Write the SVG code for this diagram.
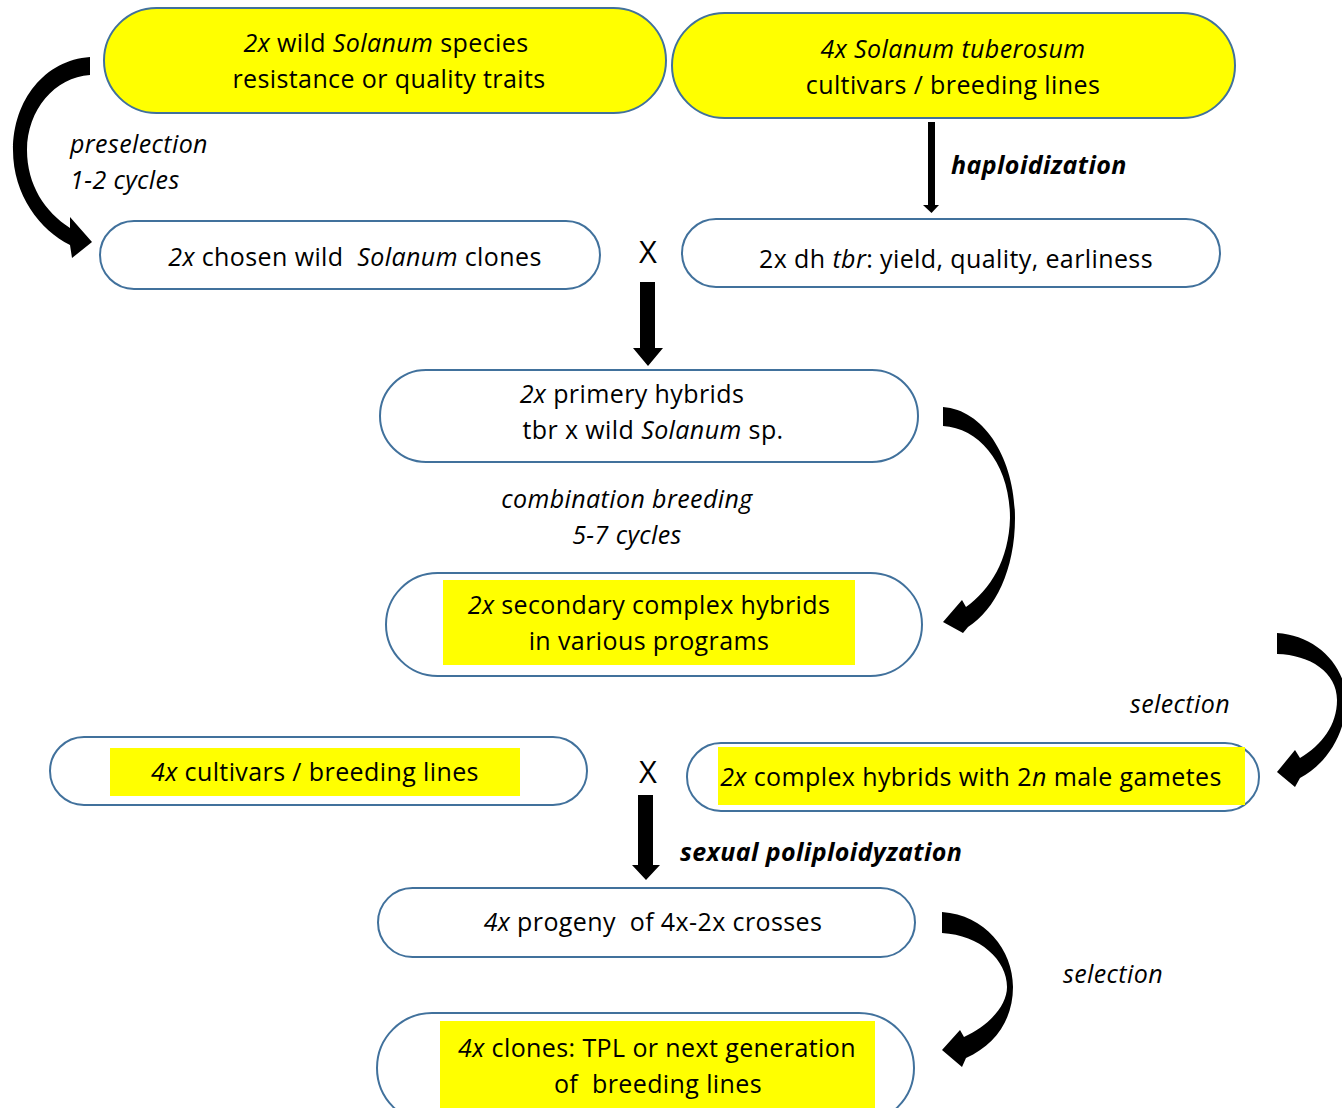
<svg xmlns="http://www.w3.org/2000/svg" width="1342" height="1108" viewBox="0 0 1342 1108">
<style>
.box{stroke:#41719C;stroke-width:2}
.y{fill:#FFFF00}
.w{fill:#FFFFFF}
.hl{fill:#FFFF00}
text{font-family:"Open Sans","Noto Sans",sans-serif;font-size:25px;letter-spacing:0.4px;fill:#000;white-space:pre}
.c{text-anchor:middle}
.i{font-style:italic}
.b{font-weight:bold;font-style:italic}
.x{font-size:31px;letter-spacing:0}
.ar{fill:#000}
</style>
<rect width="1342" height="1108" fill="#fff"/>
<g id="n1"><rect class="box y" x="104" y="8" width="562" height="105" rx="52.5"/>
<text class="c" x="386" y="52"><tspan class="i">2x</tspan> wild <tspan class="i">Solanum</tspan> species</text>
<text class="c" x="389" y="88">resistance or quality traits</text></g>
<g id="n2"><rect class="box y" x="672" y="13" width="563" height="105" rx="52.5"/>
<text class="c i" x="953" y="58">4x Solanum tuberosum</text>
<text class="c" x="953" y="94">cultivars / breeding lines</text></g>
<g id="n3"><rect class="box w" x="100" y="221" width="500" height="68" rx="34"/>
<text class="c" x="355" y="266" xml:space="preserve"><tspan class="i">2x</tspan> chosen wild  <tspan class="i">Solanum</tspan> clones</text></g>
<g id="n4"><rect class="box w" x="682" y="219" width="538" height="68" rx="34"/>
<text class="c" x="956" y="268">2x dh <tspan class="i">tbr</tspan>: yield, quality, earliness</text></g>
<g id="n5"><rect class="box w" x="380" y="370" width="538" height="92" rx="46"/>
<text class="c" x="632" y="403"><tspan class="i">2x</tspan> primery hybrids</text>
<text class="c" x="653" y="439">tbr x wild <tspan class="i">Solanum</tspan> sp.</text></g>
<g id="n6"><rect class="box w" x="386" y="573" width="536" height="103" rx="51.5"/>
<rect class="hl" x="443" y="580" width="412" height="85"/>
<text class="c" x="649" y="614"><tspan class="i">2x</tspan> secondary complex hybrids</text>
<text class="c" x="649" y="650">in various programs</text></g>
<g id="n7"><rect class="box w" x="50" y="737" width="537" height="68" rx="34"/>
<rect class="hl" x="110" y="748" width="410" height="48"/>
<text class="c" x="315" y="781"><tspan class="i">4x</tspan> cultivars / breeding lines</text></g>
<g id="n8"><rect class="box w" x="687" y="743" width="572" height="68" rx="34"/>
<rect class="hl" x="718" y="747" width="527" height="58"/>
<text class="c" x="971" y="786"><tspan class="i">2x</tspan> complex hybrids with 2<tspan class="i">n</tspan> male gametes</text></g>
<g id="n9"><rect class="box w" x="378" y="888" width="537" height="69" rx="34.5"/>
<text class="c" x="653" y="931" xml:space="preserve"><tspan class="i">4x</tspan> progeny  of 4x-2x crosses</text></g>
<g id="n10"><rect class="box w" x="377" y="1013" width="537" height="110" rx="55"/>
<rect class="hl" x="440" y="1021" width="435" height="87"/>
<text class="c" x="657" y="1057"><tspan class="i">4x</tspan> clones: TPL or next generation</text>
<text class="c" x="658" y="1093" xml:space="preserve">of  breeding lines</text></g>
<g id="labels">
<text class="i" x="70" y="153">preselection</text>
<text class="i" x="70" y="189">1-2 cycles</text>
<text class="b" x="951" y="174">haploidization</text>
<text class="c x" x="648" y="263">X</text>
<text class="c i" x="627" y="508">combination breeding</text>
<text class="c i" x="627" y="544">5-7 cycles</text>
<text class="c i" x="1180" y="713">selection</text>
<text class="c x" x="648" y="783">X</text>
<text class="b" x="680" y="861">sexual poliploidyzation</text>
<text class="c i" x="1113" y="983">selection</text>
</g>
<g id="connectors">
<path class="ar" d="M928,122 L935,122 L935,205 L939,205 L931.5,213 L923,205 L928,205 Z"/>
<path class="ar" d="M640,282 L655,282 L655,348 L663,348 L648,366 L633,348 L640,348 Z"/>
<path class="ar" d="M638,795 L653,795 L653,865 L660,865 L646,880 L632,865 L638,865 Z"/>
<path class="ar" d="M90,57 C45,60 13,100 13,150 C13,195 40,230 70,245 L72,258 L92,242 L70,217 L70,228 C45,212 27,185 27,150 C27,110 55,77 90,75 Z"/>
<path class="ar" d="M943,407 C985,410 1015,460 1015,518 C1015,570 995,610 968,627 L963,633 L943,622 L962,600 L966,607 C990,590 1009,560 1010,518 C1010,465 980,428 943,426 Z"/>
<path class="ar" d="M1277,633 C1315,635 1346,665 1346,700 C1346,735 1325,765 1300,778 L1295,787 L1277,772 L1295,750 L1300,758 C1322,745 1337,725 1337,700 C1337,672 1310,655 1277,654 Z"/>
<path class="ar" d="M942,912 C985,915 1013,950 1013,987 C1013,1020 995,1045 966,1058 L962,1067 L942,1050 L960,1030 L964,1037 C990,1025 1007,1005 1007,987 C1007,960 980,935 942,933 Z"/>
</g>
</svg>
